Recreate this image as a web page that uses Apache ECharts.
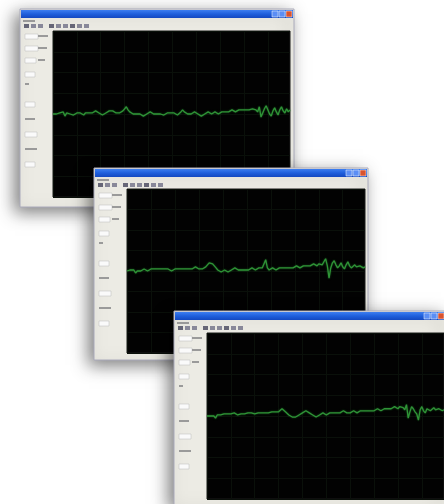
<!DOCTYPE html>
<html><head><meta charset="utf-8">
<script src="https://cdn.jsdelivr.net/npm/echarts@6/dist/echarts.min.js"></script>
<style>html,body{margin:0;padding:0;background:#fff}#c{width:444px;height:504px}</style>
</head><body><div id="c"></div>
<script>
// signal traces (arbitrary units, centre = 0)
const trace1 = [0,1,0,-1,1,0,2,-2,1,0,0,1,-1,0,1,2,1,0,-1,1,
  2,1,0,1,2,3,2,1,0,-1,0,1,2,3,4,3,2,1,0,1,
  2,3,5,7,4,2,1,0,-1,0,1,0,-1,-2,-1,0,1,2,1,0,
  -1,0,1,0,-1,-1,0,1,2,1,0,1,0,-1,0,2,4,2,1,0,
  -1,0,1,2,1,0,-1,-2,-1,0,1,2,1,0,1,2,1,0,1,2,
  3,2,1,2,3,4,3,2,3,4,5,4,3,4,5,4,3,5,6,4,
  2,7,-3,1,5,8,4,0,-2,3,6,2,-1,4,7,3,1,5,2,4];
const trace2 = [0,-1,1,0,1,-2,0,1,0,1,2,1,0,1,2,1,2,3,2,1,
  2,1,2,3,2,1,0,1,2,1,2,3,2,1,2,3,2,1,2,3,
  4,3,2,1,2,3,4,6,8,9,7,5,3,1,0,-1,0,1,0,-1,
  0,1,2,3,2,1,0,1,2,1,0,1,2,3,2,1,2,3,4,3,
  2,11,3,1,2,3,2,1,2,3,4,3,2,3,4,3,2,3,4,5,
  4,3,4,5,6,5,4,5,6,7,6,5,7,8,6,9,12,5,-7,3,
  8,10,6,3,5,8,4,2,6,9,5,3,4,6,4,3,5,4,3,4];
const trace3 = [0,-1,0,1,0,-2,1,0,1,1,2,1,2,1,2,2,3,2,1,2,
  2,3,2,2,3,2,3,3,2,3,3,4,3,2,3,4,3,3,4,5,
  4,3,4,5,7,6,4,3,1,0,-1,-2,-1,0,1,2,3,4,5,4,
  3,2,1,0,-1,0,1,2,3,2,1,2,3,4,3,2,3,4,3,4,
  5,4,3,4,3,4,5,4,3,4,5,4,5,6,5,4,5,6,5,6,
  7,6,5,6,7,8,7,6,7,8,9,8,7,9,10,8,6,11,-2,4,
  9,7,4,2,-4,6,9,5,3,7,8,5,6,8,6,5,7,6,5,6];

const windows = [
  {x:20, y:9,   w:274, h:198, grid:{left:53, top:31, width:237, height:166}, data:trace1, base:1},
  {x:94, y:168, w:274, h:192, grid:{left:127,top:189,width:238, height:164}, data:trace2, base:4},
  {x:174,y:311, w:272, h:194, grid:{left:207,top:333,width:237, height:166}, data:trace3, base:7}
];

const graphics = [];
windows.forEach(wn => {
  const z = wn.base;
  graphics.push({type:'rect', z:z, shape:{x:wn.x,y:wn.y,width:wn.w,height:wn.h},
    style:{fill:'#ecebe4', stroke:'#aab', lineWidth:1, shadowBlur:16, shadowColor:'rgba(0,0,0,0.5)', shadowOffsetX:-5, shadowOffsetY:5}});
  graphics.push({type:'rect', z:z, shape:{x:wn.x+1,y:wn.y+1,width:wn.w-2,height:8},
    style:{fill:new echarts.graphic.LinearGradient(0,0,0,1,[{offset:0,color:'#3d7ef0'},{offset:0.5,color:'#1f5fdc'},{offset:1,color:'#1448c0'}])}});
  [22,15].forEach(o=>graphics.push({type:'rect', z:z, shape:{x:wn.x+wn.w-o,y:wn.y+2,width:6,height:6}, style:{fill:'#5b8ef5', stroke:'#fff', lineWidth:0.5}}));
  graphics.push({type:'rect', z:z, shape:{x:wn.x+wn.w-8,y:wn.y+2,width:6,height:6}, style:{fill:'#d9532e', stroke:'#fff', lineWidth:0.5}});
  graphics.push({type:'rect', z:z, shape:{x:wn.x+3,y:wn.y+11,width:12,height:2}, style:{fill:'#999'}});
  for (let i=0;i<9;i++){
    graphics.push({type:'rect', z:z, shape:{x:wn.x+4+i*7+(i>2?4:0),y:wn.y+15,width:5,height:4}, style:{fill: i%3===0?'#667':'#889'}});
  }
  const lx = wn.x+3, px = wn.grid.left-wn.x-5;
  const items = [[22,10,true],[22,10,false],[34,9,true],[34,9,false],[46,7,true],[46,7,false],[60,6,true],[70,4,false],[90,6,true],[105,10,false],[120,8,true],[135,12,false],[150,6,true]];
  items.forEach(([dy,w,box],k)=>{
    const xx = (k%2===1 && dy<50) ? lx+px/2+1 : lx+2;
    if (box) graphics.push({type:'rect', z:z, shape:{x:xx,y:wn.y+dy+3,width:Math.min(w+4,px/2-1),height:5}, style:{fill:'#fafafa', stroke:'#bbb', lineWidth:0.5}});
    else graphics.push({type:'rect', z:z, shape:{x:xx,y:wn.y+dy+4,width:Math.min(w,px/2-1),height:2}, style:{fill:'#9a9a9a'}});
  });
});

const option = {
  backgroundColor:'#ffffff',
  animation:false,
  graphic:{elements:graphics},
  grid: windows.map(wn=>Object.assign({show:true, backgroundColor:'#020202', borderColor:'#1a1a1a', borderWidth:1, z:wn.base+1}, wn.grid)),
  xAxis: windows.map((wn,i)=>({type:'category', gridIndex:i, z:wn.base+1, data:wn.data.map((_,k)=>k), boundaryGap:false, axisLine:{show:false}, axisTick:{show:false}, axisLabel:{show:false},
    splitLine:{show:true, interval:13, lineStyle:{color:'#0a100a', width:1}}})),
  yAxis: windows.map((wn,i)=>({type:'value', gridIndex:i, z:wn.base+1, min:-80, max:80, interval:20, axisLine:{show:false}, axisTick:{show:false}, axisLabel:{show:false},
    splitLine:{show:true, lineStyle:{color:'#0a100a', width:1}}})),
  series: windows.map((wn,i)=>({type:'line', xAxisIndex:i, yAxisIndex:i, z:wn.base+2, data:wn.data, symbol:'none', smooth:false,
    lineStyle:{color:'#2f9437', width:1.3, shadowBlur:2, shadowColor:'rgba(40,150,50,0.6)'}}))
};
const chart = echarts.init(document.getElementById('c'), null, {renderer:'canvas'});
chart.setOption(option);
</script></body></html>
